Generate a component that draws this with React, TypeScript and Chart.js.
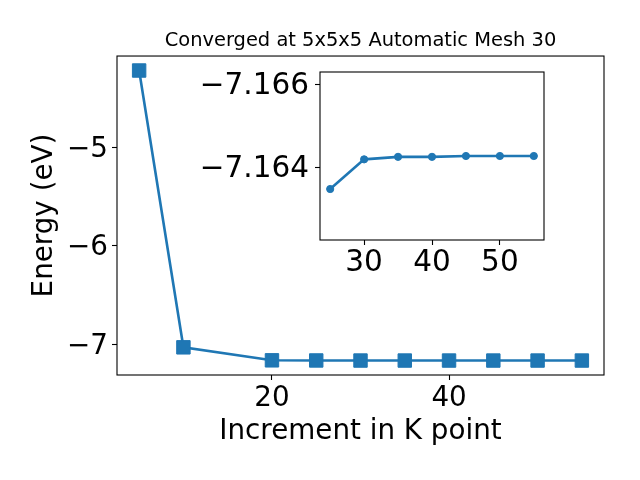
import React, { useEffect, useRef } from 'react';
import { Chart, registerables } from 'chart.js';

Chart.register(...registerables);

// ---- data ----
const mainK = [5, 10, 20, 25, 30, 35, 40, 45, 50, 55];
const mainEnergy = [-4.22, -7.03, -7.162, -7.16349, -7.1642, -7.16426, -7.16426, -7.16428, -7.16428, -7.16428];
const insetK = [25, 30, 35, 40, 45, 50, 55];
const insetEnergy = [-7.16349, -7.1642, -7.16426, -7.16426, -7.16428, -7.16428, -7.16428];
const mainXTicks = [20, 40];
const mainYTicks = [-7, -6, -5];
const insetXTicks = [30, 40, 50];
const insetYTicks = [-7.166, -7.164];
const titleText = 'Converged at 5x5x5 Automatic Mesh 30';
const xLabel = 'Increment in K point';
const yLabel = 'Energy (eV)';

const BLUE = '#1f77b4';
const FONT = "'DejaVu Sans', sans-serif";
const FS = 27.78;
const FS_INSET = 29.5;

const minus = (s: string) => s.replace('-', '\u2212');

const makeFrame = (fillWhite: boolean) => ({
  id: 'frame',
  beforeDatasetsDraw(chart: any) {
    if (!fillWhite) return;
    const { left, top, right, bottom } = chart.chartArea;
    const ctx = chart.ctx;
    ctx.save();
    ctx.fillStyle = '#fff';
    ctx.fillRect(left, top, right - left, bottom - top);
    ctx.restore();
  },
  afterDraw(chart: any) {
    const { left, top, right, bottom } = chart.chartArea;
    const ctx = chart.ctx;
    ctx.save();
    ctx.strokeStyle = '#000';
    ctx.lineWidth = 1.1;
    ctx.strokeRect(left, top, right - left, bottom - top);
    ctx.restore();
  },
});

const tickGrid = {
  display: true,
  drawOnChartArea: false,
  drawTicks: true,
  tickLength: 5,
  tickWidth: 1.1,
  tickColor: '#000',
  color: '#000',
};

const tickFont = { family: FONT, size: FS, weight: 'normal' as const };
const insetFont = { family: FONT, size: FS_INSET, weight: 'normal' as const };

export default function App() {
  const mainRef = useRef<HTMLCanvasElement>(null);
  const insetRef = useRef<HTMLCanvasElement>(null);

  useEffect(() => {
    Chart.defaults.font.family = FONT;
    const mainChart = new Chart(mainRef.current as HTMLCanvasElement, {
      type: 'line',
      data: {
        datasets: [
          {
            data: mainK.map((x, i) => ({ x, y: mainEnergy[i] })),
            borderColor: BLUE,
            backgroundColor: BLUE,
            borderWidth: 2.6,
            pointStyle: 'rect',
            pointRadius: 9.5,
            pointBorderWidth: 1,
            pointBackgroundColor: BLUE,
            pointBorderColor: BLUE,
            tension: 0,
            clip: false,
          } as any,
        ],
      },
      options: {
        responsive: false,
        animation: false,
        devicePixelRatio: 1,
        layout: { padding: { left: 0, top: 0, right: 36, bottom: 0 } },
        plugins: {
          legend: { display: false },
          tooltip: { enabled: false },
          title: {
            display: true,
            text: titleText,
            fullSize: false,
            color: '#000',
            font: { family: FONT, size: 19.44, weight: 'normal', lineHeight: 1.2 },
            padding: { top: 29, bottom: 3.7 },
          },
        },
        scales: {
          x: {
            type: 'linear',
            min: 2.5,
            max: 57.5,
            afterBuildTicks: (s: any) => {
              s.ticks = mainXTicks.map((v) => ({ value: v }));
            },
            afterFit: (s: any) => {
              s.height = 105;
            },
            grid: tickGrid,
            border: { display: false },
            ticks: {
              color: '#000',
              font: tickFont,
              padding: 2,
              maxRotation: 0,
              minRotation: 0,
              autoSkip: false,
              callback: (v: any) => minus(String(v)),
            },
            title: {
              display: true,
              text: xLabel,
              color: '#000',
              font: tickFont,
              padding: { top: 0, bottom: 31.8 },
            },
          },
          y: {
            type: 'linear',
            min: -7.311,
            max: -4.073,
            afterBuildTicks: (s: any) => {
              s.ticks = mainYTicks.map((v) => ({ value: v }));
            },
            afterFit: (s: any) => {
              s.width = 117;
            },
            grid: tickGrid,
            border: { display: false },
            ticks: {
              color: '#000',
              font: tickFont,
              padding: 4,
              labelOffset: 2,
              autoSkip: false,
              callback: (v: any) => minus(String(v)),
            },
            title: {
              display: true,
              text: yLabel,
              color: '#000',
              font: tickFont,
              padding: { top: 28.4, bottom: 0 },
            },
          },
        },
      } as any,
      plugins: [makeFrame(false)],
    });

    const insetChart = new Chart(insetRef.current as HTMLCanvasElement, {
      type: 'line',
      data: {
        datasets: [
          {
            data: insetK.map((x, i) => ({ x, y: insetEnergy[i] })),
            borderColor: BLUE,
            backgroundColor: BLUE,
            borderWidth: 2.6,
            pointStyle: 'circle',
            pointRadius: 3.6,
            pointBorderWidth: 1,
            pointBackgroundColor: BLUE,
            pointBorderColor: BLUE,
            tension: 0,
            clip: false,
          } as any,
        ],
      },
      options: {
        responsive: false,
        animation: false,
        devicePixelRatio: 1,
        layout: { padding: { left: 200, top: 72, right: 96, bottom: 190 } },
        plugins: {
          legend: { display: false },
          tooltip: { enabled: false },
          title: { display: false },
        },
        scales: {
          x: {
            type: 'linear',
            min: 23.5,
            max: 56.5,
            afterBuildTicks: (s: any) => {
              s.ticks = insetXTicks.map((v) => ({ value: v }));
            },
            afterFit: (s: any) => {
              s.height = 50;
            },
            grid: tickGrid,
            border: { display: false },
            ticks: {
              color: '#000',
              font: insetFont,
              padding: 0.5,
              maxRotation: 0,
              minRotation: 0,
              autoSkip: false,
              callback: (v: any) => minus(String(v)),
            },
          },
          y: {
            type: 'linear',
            reverse: true,
            min: -7.16629,
            max: -7.16227,
            afterBuildTicks: (s: any) => {
              s.ticks = insetYTicks.map((v) => ({ value: v }));
            },
            afterFit: (s: any) => {
              s.width = 120;
            },
            grid: tickGrid,
            border: { display: false },
            ticks: {
              color: '#000',
              font: insetFont,
              padding: 6,
              labelOffset: 2,
              autoSkip: false,
              callback: (v: any) => minus(Number(v).toFixed(3)),
            },
          },
        },
      } as any,
      plugins: [makeFrame(true)],
    });

    return () => {
      mainChart.destroy();
      insetChart.destroy();
    };
  }, []);

  return (
    <div style={{ position: 'absolute', left: 0, top: 0, width: 640, height: 480, background: '#fff' }}>
      <canvas ref={mainRef} width={640} height={480} style={{ position: 'absolute', left: 0, top: 0 }} />
      <canvas
        ref={insetRef}
        width={640}
        height={480}
        style={{ position: 'absolute', left: 0, top: 0, pointerEvents: 'none' }}
      />
    </div>
  );
}
